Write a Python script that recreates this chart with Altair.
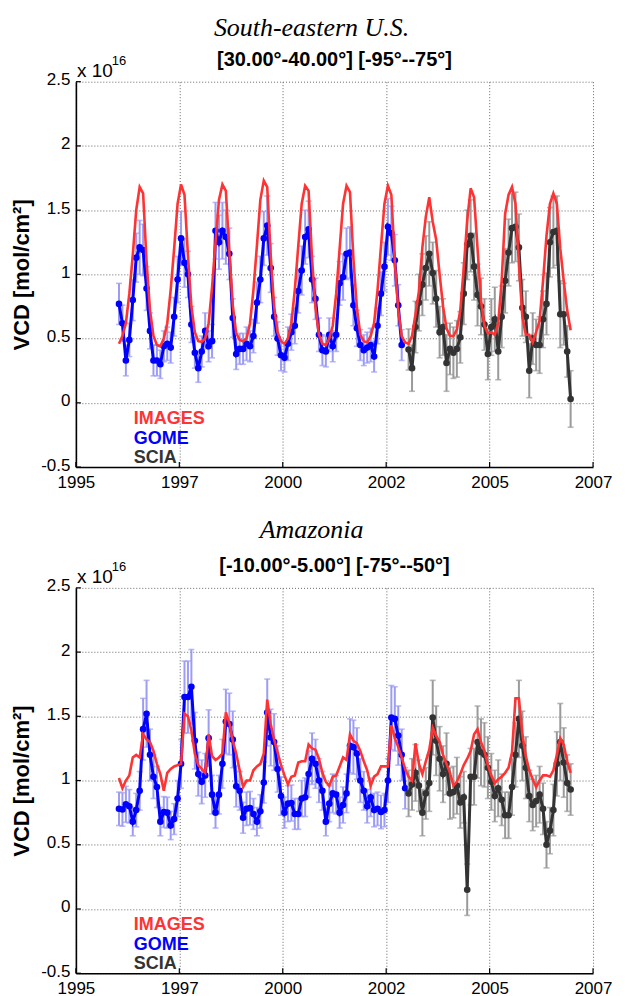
import altair as alt
import pandas as pd

# ---------------- axes ----------------
X_TICKS = [1995, 1997.5, 2000, 2002.5, 2005, 2007.5]
Y_TICKS = [-0.5, 0, 0.5, 1, 1.5, 2, 2.5]

# ---------------- panel 1 : South-eastern U.S. (units of 1e16 mol/cm2) ----------------
SE_TITLE = "South-eastern U.S."
SE_SUB = "[30.00°-40.00°] [-95°--75°]"
# IMAGES, monthly Jan 1996 - Dec 2006
SE_IMAGES = [
    0.46, 0.52, 0.62, 0.85, 1.15, 1.50, 1.68, 1.63, 1.10, 0.72, 0.52, 0.45,
    0.44, 0.50, 0.62, 0.88, 1.20, 1.55, 1.70, 1.62, 1.15, 0.75, 0.55, 0.48,
    0.475, 0.50, 0.62, 0.90, 1.25, 1.58, 1.70, 1.65, 1.18, 0.76, 0.54, 0.49,
    0.48, 0.50, 0.62, 0.88, 1.22, 1.58, 1.73, 1.68, 1.15, 0.75, 0.55, 0.48,
    0.46, 0.50, 0.62, 0.88, 1.22, 1.55, 1.69, 1.65, 1.12, 0.74, 0.53, 0.46,
    0.45, 0.50, 0.60, 0.85, 1.20, 1.55, 1.69, 1.64, 1.12, 0.74, 0.53, 0.48,
    0.47, 0.52, 0.62, 0.88, 1.22, 1.55, 1.69, 1.62, 1.10, 0.72, 0.52, 0.47,
    0.46, 0.52, 0.69, 0.87, 1.21, 1.45, 1.60, 1.41, 1.27, 1.00, 0.75, 0.58,
    0.52, 0.52, 0.57, 0.72, 1.05, 1.42, 1.67, 1.60, 1.20, 0.80, 0.60, 0.54,
    0.55, 0.53, 0.62, 0.95, 1.47, 1.62, 1.68, 1.55, 1.08, 0.67, 0.53, 0.53,
    0.47, 0.55, 0.64, 0.95, 1.30, 1.55, 1.63, 1.55, 1.20, 0.95, 0.72, 0.565,
]
# GOME, monthly from Jan 1996
SE_GOME = [
    0.77, 0.62, 0.33, 0.49, 0.80, 1.13, 1.21, 1.19, 0.89, 0.56, 0.33, 0.33,
    0.30, 0.44, 0.46, 0.43, 0.67, 0.96, 1.28, 1.09, 1.00, 0.61, 0.39, 0.27,
    0.40, 0.56, 0.44, 0.48, 1.34, 1.25, 1.34, 1.29, 1.16, 0.66, 0.38, 0.42,
    0.42, 0.46, 0.44, 0.52, 0.78, 0.96, 1.28, 1.38, 1.05, 0.67, 0.50, 0.37,
    0.35, 0.46, 0.55, 0.60, 0.87, 1.03, 1.29, 1.35, 0.96, 0.81, 0.53, 0.41,
    0.40, 0.53, 0.44, 0.53, 0.93, 0.98, 1.16, 1.17, 0.76, 0.58, 0.45, 0.41,
    0.43, 0.45, 0.36, 0.60, 0.85, 1.06, 1.37, 1.32, 1.11, 0.76, 0.45,
]
SE_GOME_ERR = [
    0.16, 0.14, 0.12, 0.13, 0.16, 0.19, 0.21, 0.20, 0.17, 0.14, 0.12, 0.12,
    0.11, 0.12, 0.13, 0.12, 0.15, 0.18, 0.21, 0.19, 0.18, 0.14, 0.12, 0.11,
    0.12, 0.14, 0.12, 0.13, 0.22, 0.21, 0.22, 0.21, 0.20, 0.15, 0.12, 0.12,
    0.12, 0.13, 0.12, 0.13, 0.16, 0.18, 0.21, 0.23, 0.19, 0.15, 0.13, 0.12,
    0.11, 0.13, 0.14, 0.14, 0.17, 0.19, 0.21, 0.22, 0.18, 0.16, 0.13, 0.12,
    0.12, 0.13, 0.12, 0.13, 0.17, 0.18, 0.20, 0.20, 0.16, 0.14, 0.12, 0.12,
    0.12, 0.13, 0.12, 0.14, 0.17, 0.19, 0.22, 0.21, 0.20, 0.16, 0.12,
]
# SCIAMACHY, monthly from Jan 2003
SE_SCIA = [
    0.415, 0.27, 0.59, 0.78, 0.92, 1.05, 1.16, 1.01, 0.81, 0.55, 0.59, 0.31,
    0.42, 0.39, 0.42, 0.51, 0.85, 1.23, 1.30, 1.06, 0.84, 0.75, 0.61, 0.38,
    0.59, 0.65, 0.40, 0.67, 0.95, 1.17, 1.36, 1.37, 1.21, 0.74, 0.67, 0.25,
    0.50, 0.45, 0.45, 0.65, 0.77, 1.25, 1.33, 1.34, 0.69, 0.69, 0.40, 0.03,
]
SE_SCIA_ERR = [
    0.16, 0.18, 0.20, 0.22, 0.24, 0.25, 0.25, 0.24, 0.22, 0.20, 0.22, 0.22,
    0.20, 0.20, 0.22, 0.20, 0.24, 0.27, 0.28, 0.26, 0.24, 0.22, 0.20, 0.20,
    0.22, 0.25, 0.22, 0.24, 0.25, 0.26, 0.27, 0.27, 0.26, 0.22, 0.20, 0.21,
    0.20, 0.20, 0.22, 0.22, 0.24, 0.27, 0.28, 0.27, 0.26, 0.24, 0.20, 0.22,
]

# ---------------- panel 2 : Amazonia ----------------
AM_TITLE = "Amazonia"
AM_SUB = "[-10.00°-5.00°] [-75°--50°]"
AM_IMAGES = [
    1.02, 0.94, 1.00, 1.04, 1.18, 1.20, 1.18, 1.36, 1.32, 1.30, 1.23, 1.13,
    1.05, 0.92, 1.06, 1.09, 1.11, 1.12, 1.13, 1.52, 1.50, 1.39, 1.21, 1.12,
    1.09, 1.06, 1.36, 1.19, 1.16, 1.18, 1.21, 1.53, 1.45, 1.31, 1.21, 1.08,
    0.95, 1.00, 1.00, 1.08, 1.11, 1.13, 1.21, 1.63, 1.44, 1.32, 1.22, 1.12,
    1.04, 0.97, 1.03, 1.04, 1.14, 1.15, 1.15, 1.28, 1.25, 1.24, 1.17, 1.06,
    0.99, 0.96, 1.03, 1.04, 1.11, 1.18, 1.16, 1.36, 1.31, 1.29, 1.23, 1.15,
    1.08, 0.96, 1.03, 1.05, 1.11, 1.11, 1.11, 1.43, 1.33, 1.26, 1.18, 1.09,
    1.03, 1.00, 1.29, 1.13, 1.05, 1.15, 1.24, 1.41, 1.35, 1.30, 1.20, 1.13,
    1.06, 0.96, 0.99, 1.05, 1.12, 1.17, 1.23, 1.36, 1.40, 1.30, 1.23, 1.12,
    1.04, 0.98, 1.01, 1.03, 1.06, 1.10, 1.22, 1.64, 1.64, 1.36, 1.19, 1.08,
    1.01, 0.95, 1.00, 1.04, 1.04, 1.03, 1.08, 1.20, 1.33, 1.28, 1.15, 1.06,
]
AM_GOME = [
    0.78, 0.775, 0.815, 0.80, 0.68, 0.77, 0.92, 1.40, 1.52, 1.20, 1.03, 0.95,
    0.68, 0.755, 0.75, 0.65, 0.70, 0.86, 1.13, 1.65, 1.65, 1.73, 1.31, 1.05,
    0.99, 1.04, 1.33, 0.89, 0.75, 0.89, 1.13, 1.46, 1.44, 1.32, 0.955, 0.92,
    0.71, 0.78, 0.785, 0.74, 0.68, 0.76, 0.985, 1.53, 1.335, 1.30, 1.09, 0.88,
    0.75, 0.82, 0.825, 0.74, 0.74, 0.86, 0.87, 1.05, 1.17, 1.13, 1.00, 0.92,
    0.68, 0.82, 0.90, 0.89, 0.75, 0.81, 0.90, 1.27, 1.26, 1.21, 1.00, 0.92,
    0.80, 0.87, 0.77, 0.78, 0.755, 0.77, 1.00, 1.49, 1.48, 1.35, 1.20, 0.94,
]
AM_GOME_ERR = [
    0.13, 0.13, 0.14, 0.13, 0.11, 0.13, 0.15, 0.24, 0.26, 0.20, 0.17, 0.16,
    0.11, 0.12, 0.12, 0.11, 0.12, 0.14, 0.19, 0.28, 0.28, 0.29, 0.22, 0.17,
    0.17, 0.17, 0.22, 0.15, 0.12, 0.15, 0.19, 0.25, 0.24, 0.22, 0.16, 0.15,
    0.12, 0.13, 0.13, 0.12, 0.11, 0.13, 0.16, 0.26, 0.22, 0.22, 0.18, 0.15,
    0.12, 0.14, 0.14, 0.12, 0.12, 0.14, 0.15, 0.18, 0.20, 0.19, 0.17, 0.15,
    0.11, 0.14, 0.15, 0.15, 0.12, 0.14, 0.15, 0.21, 0.21, 0.20, 0.17, 0.15,
    0.13, 0.15, 0.13, 0.13, 0.13, 0.13, 0.17, 0.25, 0.25, 0.23, 0.20, 0.16,
]
AM_SCIA = [
    0.90, 0.97, 1.06, 0.96, 0.75, 0.90, 0.98, 1.49, 1.31, 1.17, 1.05, 1.13,
    0.90, 0.91, 0.96, 0.83, 0.87, 0.15, 1.03, 1.03, 1.30, 1.22, 1.20, 1.10,
    0.99, 0.88, 0.94, 0.85, 0.73, 0.73, 0.95, 1.20, 1.48, 1.27, 1.10, 0.88,
    0.81, 0.84, 0.89, 0.78, 0.50, 0.61, 0.77, 1.13, 1.30, 1.14, 0.98, 0.93,
]
AM_SCIA_ERR = [
    0.18, 0.20, 0.22, 0.20, 0.18, 0.20, 0.22, 0.29, 0.27, 0.25, 0.22, 0.24,
    0.20, 0.20, 0.22, 0.20, 0.20, 0.20, 0.22, 0.22, 0.28, 0.26, 0.25, 0.24,
    0.22, 0.20, 0.22, 0.20, 0.18, 0.18, 0.22, 0.25, 0.30, 0.27, 0.24, 0.20,
    0.20, 0.20, 0.22, 0.20, 0.18, 0.18, 0.20, 0.25, 0.30, 0.27, 0.22, 0.20,
]

LEGEND = [("IMAGES", "#ff3333"), ("GOME", "#0000ff"), ("SCIA", "#333333")]

W, H = 518, 386
RED, BLUE, DARK = "#ff3333", "#0000ff", "#333333"
LBLUE, GREY = "#9c9cf4", "#9a9a9a"
SANS, SERIF = "Liberation Sans", "Liberation Serif"


def month_pos(y0, m0, n):
    return [y0 + (m0 - 1 + k + 0.5) / 12.0 for k in range(n)]


def series_df(y0, m0, vals, errs=None):
    d = {"t": month_pos(y0, m0, len(vals)), "v": vals}
    if errs is not None:
        d["lo"] = [v - e for v, e in zip(vals, errs)]
        d["hi"] = [v + e for v, e in zip(vals, errs)]
    return pd.DataFrame(d)


XSCALE = alt.Scale(domain=[1995, 2007.5], nice=False, zero=False)
YSCALE = alt.Scale(domain=[-0.5, 2.5], nice=False, zero=False)
XAXIS = alt.Axis(values=X_TICKS, labelExpr="floor(datum.value)", title=None,
                 grid=True, gridDash=[1, 2], gridColor="#666666", gridWidth=1,
                 ticks=False, tickSize=0, domainColor="black", domainWidth=1.6,
                 labelFont=SANS, labelFontSize=17, labelColor="black",
                 labelPadding=7, labelFlush=False, labelOverlap=False)
YAXIS = alt.Axis(values=Y_TICKS, labelExpr="'' + datum.value", title="VCD [mol/cm²]",
                 titleFont=SANS, titleFontSize=22, titleFontWeight="bold",
                 titleColor="black", titlePadding=7,
                 grid=True, gridDash=[1, 2], gridColor="#666666", gridWidth=1,
                 ticks=False, tickSize=0, domainColor="black", domainWidth=1.6,
                 labelFont=SANS, labelFontSize=17, labelColor="black",
                 labelPadding=6, labelOffset=-2, labelOverlap=False)


def X():
    return alt.X("t:Q", scale=XSCALE, axis=XAXIS)


def Y(field="v"):
    return alt.Y(f"{field}:Q", scale=YSCALE, axis=YAXIS)


def text_layer(s, x, y, size, color="black", font=SANS, weight="normal",
               style="normal", align="left"):
    return alt.Chart(pd.DataFrame({"s": [s]})).mark_text(
        font=font, fontSize=size, fontWeight=weight, fontStyle=style,
        color=color, align=align, baseline="alphabetic"
    ).encode(x=alt.value(x), y=alt.value(y), text="s:N")


def errorbars(df, color):
    rule = alt.Chart(df).mark_rule(color=color, strokeWidth=2).encode(
        x=X(), y=Y("lo"), y2="hi:Q")
    cap_lo = alt.Chart(df).mark_tick(color=color, orient="horizontal", size=6,
                                     thickness=1.6).encode(x=X(), y=Y("lo"))
    cap_hi = alt.Chart(df).mark_tick(color=color, orient="horizontal", size=6,
                                     thickness=1.6).encode(x=X(), y=Y("hi"))
    return [rule, cap_lo, cap_hi]


def series(df, color, width=3):
    line = alt.Chart(df).mark_line(color=color, strokeWidth=width).encode(x=X(), y=Y())
    pts = alt.Chart(df).mark_circle(color=color, size=44, opacity=1).encode(x=X(), y=Y())
    return [line, pts]


def panel(title, sub, images, gome, gome_err, scia, scia_err, title_y):
    df_img = series_df(1996, 1, images)
    df_g = series_df(1996, 1, gome, gome_err)
    df_s = series_df(2003, 1, scia, scia_err)

    ytick_df = pd.DataFrame({"v": Y_TICKS})
    xtick_df = pd.DataFrame({"t": X_TICKS})
    yticks = alt.Chart(ytick_df).mark_rule(color="black", strokeWidth=1.2).encode(
        y=Y(), x=alt.value(0), x2=alt.value(5))
    xticks = alt.Chart(xtick_df).mark_rule(color="black", strokeWidth=1.2).encode(
        x=X(), y=alt.value(H), y2=alt.value(H - 5))

    red = alt.Chart(df_img).mark_line(color=RED, strokeWidth=2.6).encode(x=X(), y=Y())

    layers = [yticks, xticks]
    layers += errorbars(df_g, LBLUE)
    layers += series(df_g, BLUE)
    layers += errorbars(df_s, GREY)
    layers += series(df_s, DARK)
    layers.append(red)

    layers.append(text_layer(title, 236, title_y, 26, font=SERIF, style="italic",
                             align="center"))
    layers.append(text_layer(sub, W / 2, -16, 20, weight="bold", align="center"))
    layers.append(text_layer("x 10", 1, -5, 19))
    layers.append(text_layer("16", 36, -17, 13))
    for k, (name, col) in enumerate(LEGEND):
        layers.append(text_layer(name, 58, 343 + 19.5 * k, 18, color=col, weight="bold"))

    return alt.layer(*layers).properties(width=W, height=H)


p1 = panel(SE_TITLE, SE_SUB, SE_IMAGES, SE_GOME, SE_GOME_ERR, SE_SCIA, SE_SCIA_ERR, -46)
p2 = panel(AM_TITLE, AM_SUB, AM_IMAGES, AM_GOME, AM_GOME_ERR, AM_SCIA, AM_SCIA_ERR, -50)

chart = alt.vconcat(p1, p2, spacing=27).properties(
    padding={"left": 2, "top": 6, "right": 5, "bottom": 0},
    background="white",
).configure_view(stroke=None)

chart.save("out.html", embed_options={"renderer": "svg", "actions": False})
